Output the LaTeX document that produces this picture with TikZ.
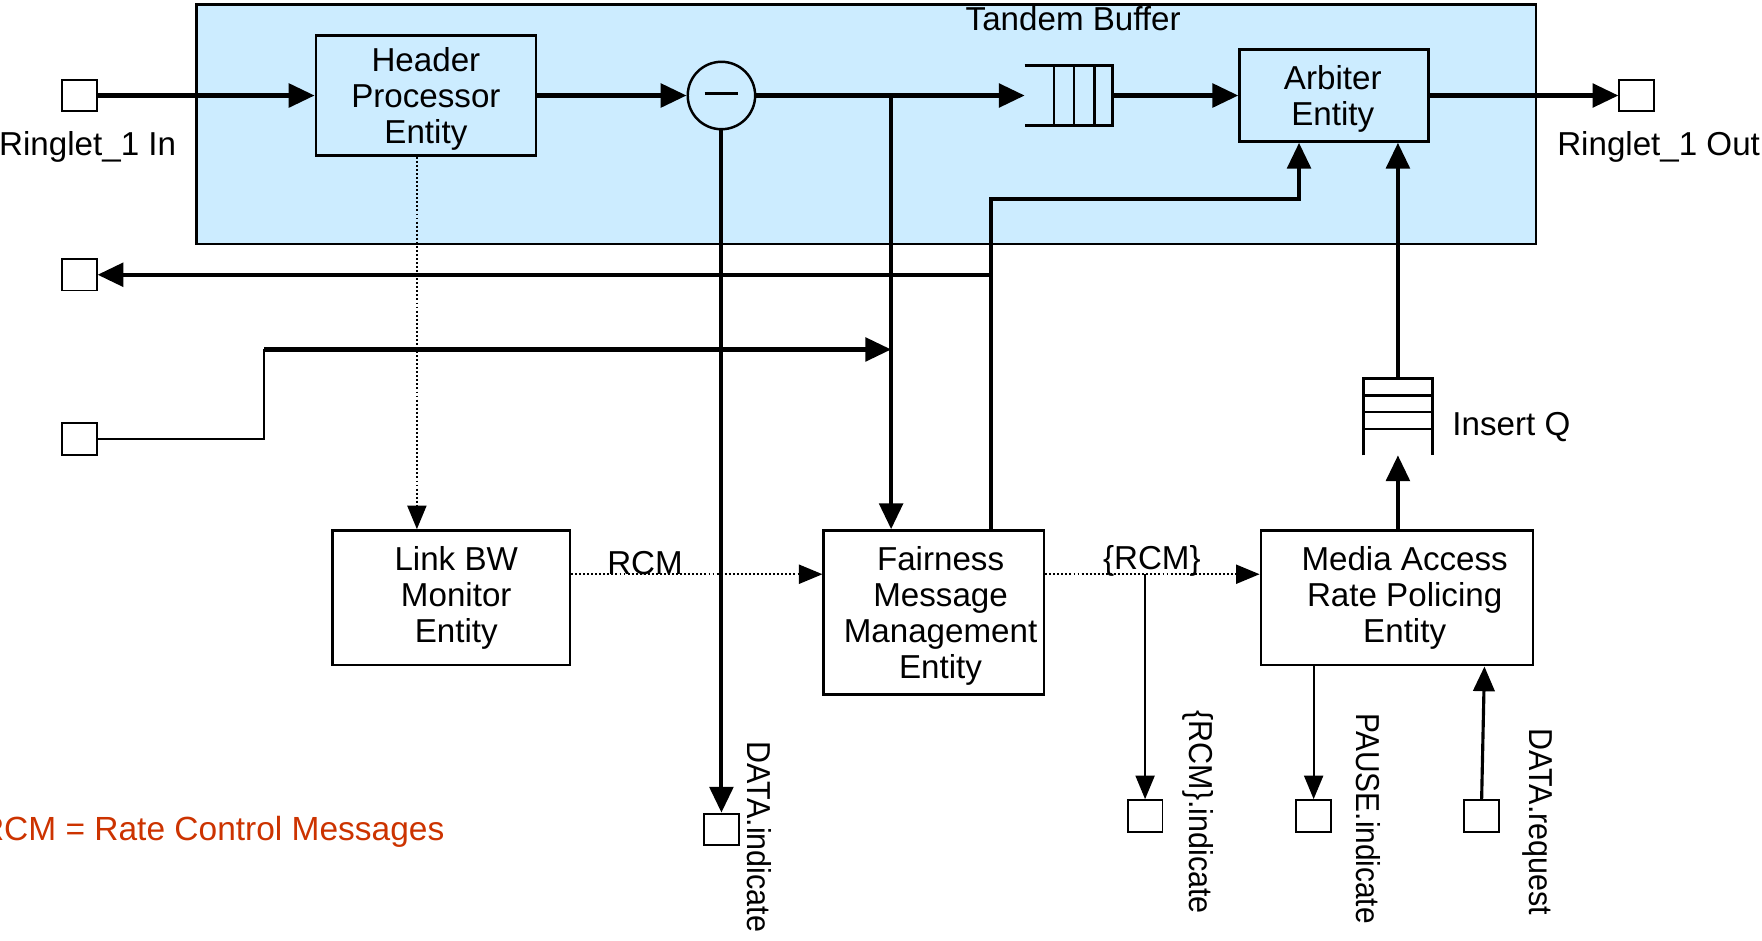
\documentclass[tikz,border=0pt]{standalone}
\usepackage{fontspec}
\setmainfont{Liberation Sans}
\usetikzlibrary{arrows.meta,calc}
\definecolor{bufferblue}{RGB}{204,236,255}
\definecolor{notered}{RGB}{204,51,0}

\begin{document}
\begin{tikzpicture}[x=1pt,y=-1pt,
  every node/.style={font=\fontsize{29.5}{32}\selectfont},
  box/.style={draw,line width=2.2pt,inner sep=0pt},
  boxtext/.style={align=center,inner sep=0pt},
  port/.style={draw,line width=1.7pt,minimum width=31pt,minimum height=28pt,inner sep=0pt},
  qbox/.style={inner sep=0pt},
  flow/.style={line width=3.6pt,-{Triangle[length=23pt,width=21pt]}},
  midflow/.style={line width=2.8pt,-{Triangle[length=22pt,width=19pt]}},
  sig/.style={line width=1.7pt,-{Triangle[length=21pt,width=17pt]}},
  dotline/.style={line width=1.7pt,dash pattern=on 1.7pt off 1.9pt,-{Triangle[length=21pt,width=17pt]}},
  vlabel/.style={rotate=-90,anchor=west,inner sep=0pt},
  ]
\useasboundingbox (0,0) rectangle (1568,837);

% tandem buffer region
\node[draw,line width=2.2pt,fill=bufferblue,minimum width=1192pt,minimum height=213pt,inner sep=0pt] (tb) at (771,110.5) {};
\node (tbl) at (955,17) {Tandem Buffer};

% entities
\node[box,minimum width=196pt,minimum height=107pt] (hdr) at (379,85) {};
\node[box,minimum width=168pt,minimum height=82pt] (arb) at (1187,85) {};
\node[box,minimum width=211pt,minimum height=120pt] (lbw) at (401.5,532) {};
\node[box,minimum width=196pt,minimum height=146pt] (fme) at (831,545) {};
\node[box,minimum width=242pt,minimum height=120pt] (mar) at (1243,532) {};
\node[boxtext] (hdrt) at (379,88) {Header\\Processor\\Entity};
\node[boxtext] (arbt) at (1186,88) {Arbiter\\Entity};
\node[boxtext] (lbwt) at (406,532) {Link BW\\Monitor\\Entity};
\node[boxtext] (fmet) at (837,548) {Fairness\\Message\\Management\\Entity};
\node[boxtext] (mart) at (1250,532) {Media Access\\Rate Policing\\Entity};

% subtractor
\node[draw,circle,line width=2.2pt,minimum size=60pt,inner sep=0pt] (sub) at (642,85) {};
\draw[line width=2.2pt] ($(sub.center)+(-15,-2)$) -- ($(sub.center)+(15,-2)$);

% tandem queue (open on the left)
\node[qbox,minimum width=78pt,minimum height=53pt] (tq) at (951,85) {};
\draw[line width=2.2pt] (tq.north west) -- (tq.north east) -- (tq.south east) -- (tq.south west);
\foreach \dx in {26,44,62}
  \draw[line width=2.2pt] ($(tq.north west)+(\dx,0)$) -- ($(tq.south west)+(\dx,0)$);

% insert queue (open at the bottom)
\node[qbox,minimum width=61pt,minimum height=68pt] (iq) at (1244,371) {};
\draw[line width=2.2pt] (iq.south west) -- (iq.north west) -- (iq.north east) -- (iq.south east);
\foreach \dy in {15,30,45}
  \draw[line width=2.2pt] ($(iq.north west)+(0,\dy)$) -- ($(iq.north east)+(0,\dy)$);
\node[anchor=west] (iql) at (1289,380) {Insert Q};

% ports
\node[port] (rin) at (70.5,85) {};
\node[port] (rout) at (1456.5,85) {};
\node[port] (pfb) at (70.5,244.5) {};
\node[port] (pad) at (70.5,390.5) {};
\node[port] (pdi) at (642,738) {};
\node[port] (prc) at (1019,726) {};
\node[port] (ppi) at (1169,726) {};
\node[port] (pdr) at (1318.5,726) {};

\node (rinl) at (78,131) {Ringlet\_1 In};
\node (routl) at (1476,131) {Ringlet\_1 Out};

% ring data path
\coordinate (split) at (793,85);
\draw[flow] (rin.east) -- (hdr.west);
\draw[flow] (hdr.east) -- (sub.west);
\draw[flow] (sub.east) -- (tq.west);
\draw[flow] (tq.east) -- (arb.west);
\draw[flow] (arb.east) -- (rout.west);
\draw[flow] (split) -- (split |- fme.north);
\draw[flow] (sub.south) -- (pdi.north);

% fairness messages towards arbiter and out
\coordinate (fup) at (882,177);
\coordinate (aup) at (1156,177);
\coordinate (fout) at (882,244.5);
\draw[flow] (fup |- fme.north) -- (fup) -- (aup) -- (aup |- arb.south);
\draw[flow] (fout) -- (pfb.east);

% incoming fairness messages
\coordinate (ain) at (235,311);
\coordinate (ajoin) at (793,311);
\draw[line width=1.7pt] (pad.east) -| (ain);
\draw[flow] (ain) -- (ajoin);

% monitoring and rate control
\coordinate (hx) at (371,0);
\coordinate (rcmy) at (0,511);
\coordinate (rsplit) at (1019,511);
\draw[dotline] (hdr.south -| hx) -- (lbw.north -| hx);
\draw[dotline] (lbw.east |- rcmy) -- (fme.west |- rcmy);
\draw[dotline] (fme.east |- rcmy) -- (mar.west |- rcmy);
\node (rcm1) at (574,501) {RCM};
\node (rcm2) at (1025,499) {\{RCM\}};
\draw[sig] (rsplit) -- (prc.north);

% add path
\coordinate (mx) at (1244,0);
\coordinate (px) at (1169,0);
\coordinate (dx) at (1321,0);
\draw[flow] (mar.north -| mx) -- (iq.south);
\draw[flow] (iq.north) -- (iq.north |- arb.south);
\draw[sig] (mar.south -| px) -- (ppi.north);
\draw[midflow] (pdr.north) -- (mar.south -| dx);

% client interface labels
\node[vlabel] (l1) at (676,660) {\scalebox{0.92}[1]{DATA.indicate}};
\node[vlabel] (l2) at (1066,632) {\scalebox{0.92}[1]{\{RCM\}.indicate}};
\node[vlabel] (l3) at (1218,635) {\scalebox{0.9}[1]{PAUSE.indicate}};
\node[vlabel] (l4) at (1368,648) {\scalebox{0.92}[1]{DATA.request}};

\node[anchor=east,text=notered,font=\fontsize{29.8}{32}\selectfont] (note) at (399,740) {RCM = Rate Control Messages};
\end{tikzpicture}
\end{document}
